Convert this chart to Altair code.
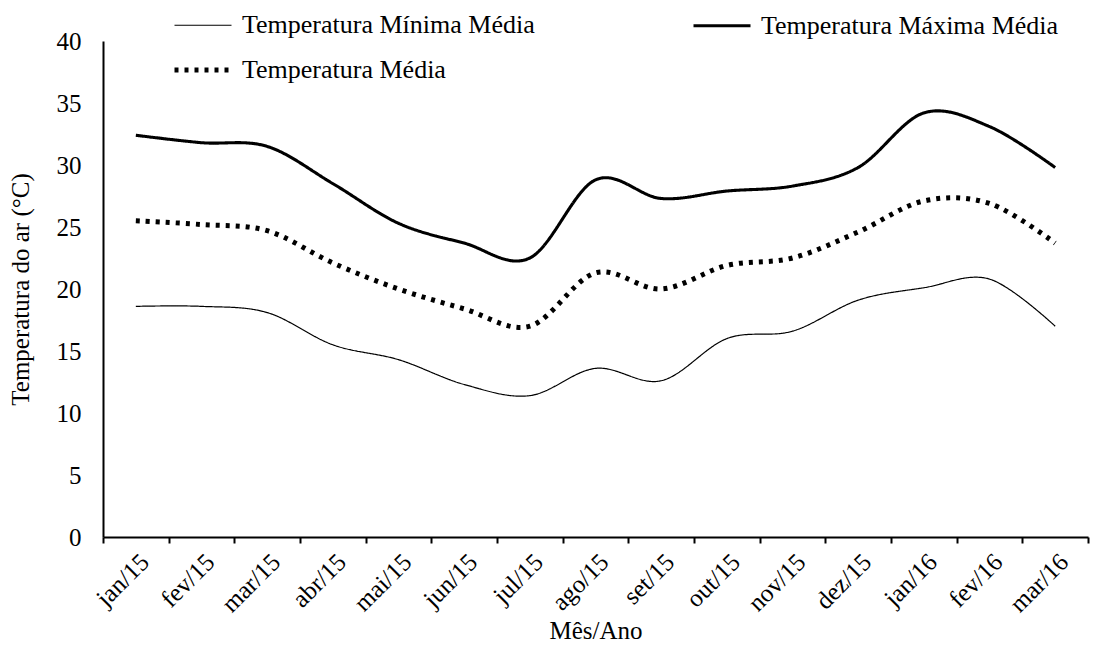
import altair as alt
import pandas as pd

months = ["jan/15", "fev/15", "mar/15", "abr/15", "mai/15", "jun/15", "jul/15",
          "ago/15", "set/15", "out/15", "nov/15", "dez/15", "jan/16", "fev/16", "mar/16"]
series = ["Temperatura Mínima Média", "Temperatura Máxima Média", "Temperatura Média"]
tmin = [18.6, 18.6, 18.1, 15.5, 14.3, 12.3, 11.4, 13.6, 12.6, 16.0, 16.6, 19.1, 20.1, 20.8, 17.0]
tmax = [32.4, 31.8, 31.5, 28.5, 25.3, 23.7, 22.5, 28.8, 27.3, 27.9, 28.3, 29.8, 34.2, 33.1, 29.8]
tmed = [25.5, 25.2, 24.7, 22.1, 20.0, 18.4, 17.0, 21.3, 20.0, 21.9, 22.5, 24.6, 27.1, 26.9, 23.7]

rows = []
for name, vals in zip(series, [tmin, tmax, tmed]):
    for i, (m, v) in enumerate(zip(months, vals)):
        rows.append({"serie": name, "idx": i, "mes": m, "temp": v})
df = pd.DataFrame(rows)

FONT = "Liberation Serif"
W, H = 985, 496
n = len(months)
half_band = W / n / 2

month_js = "[" + ",".join("'%s'" % m for m in months) + "]"
label_expr = "datum.value > %d ? '' : %s[round(datum.value + 0.5)]" % (n - 1, month_js)

legend = alt.Legend(
    title=None, orient="none", legendX=69, legendY=-46, columns=2, direction="horizontal",
    columnPadding=152, rowPadding=-17, symbolType="stroke", symbolSize=3249,
    labelFont=FONT, labelFontSize=26, labelColor="black", labelOffset=8,
    labelLimit=500, padding=0,
)

chart = alt.Chart(df).mark_line(interpolate="cardinal", strokeCap="butt").encode(
    x=alt.X("idx:Q",
            scale=alt.Scale(domain=[-0.5, n - 0.5], nice=False, zero=False),
            axis=alt.Axis(values=[i - 0.5 for i in range(n + 1)], labelExpr=label_expr,
                          labelOffset=half_band, labelAngle=-45, labelAlign="right",
                          labelBaseline="top", labelPadding=6, labelFlush=False,
                          labelOverlap=False, tickSize=6, tickWidth=2, tickColor="black",
                          domainWidth=2, domainColor="black", grid=False,
                          title="Mês/Ano", titlePadding=2)),
    y=alt.Y("temp:Q",
            scale=alt.Scale(domain=[0, 40], nice=False),
            axis=alt.Axis(values=list(range(0, 41, 5)), ticks=False, grid=False,
                          domainWidth=2, domainColor="black", labelPadding=22,
                          title="Temperatura do ar (°C)", titlePadding=23)),
    color=alt.Color("serie:N", scale=alt.Scale(domain=series, range=["black"] * 3), legend=legend),
    strokeWidth=alt.StrokeWidth("serie:N", scale=alt.Scale(domain=series, range=[1.2, 5, 4.5]), legend=legend),
    strokeDash=alt.StrokeDash("serie:N", scale=alt.Scale(domain=series, range=[[1, 0], [1, 0], [4, 6]]), legend=legend),
    order=alt.Order("idx:Q"),
).properties(
    width=W, height=H,
    autosize=alt.AutoSizeParams(type="none"),
    padding={"left": 95, "top": 33, "right": 2, "bottom": 111},
).configure_view(stroke=None).configure_axis(
    labelFont=FONT, labelFontSize=25, labelColor="black",
    titleFont=FONT, titleFontSize=25, titleColor="black", titleFontWeight="normal",
)

chart.save("out.html", embed_options={"renderer": "svg", "actions": False})
